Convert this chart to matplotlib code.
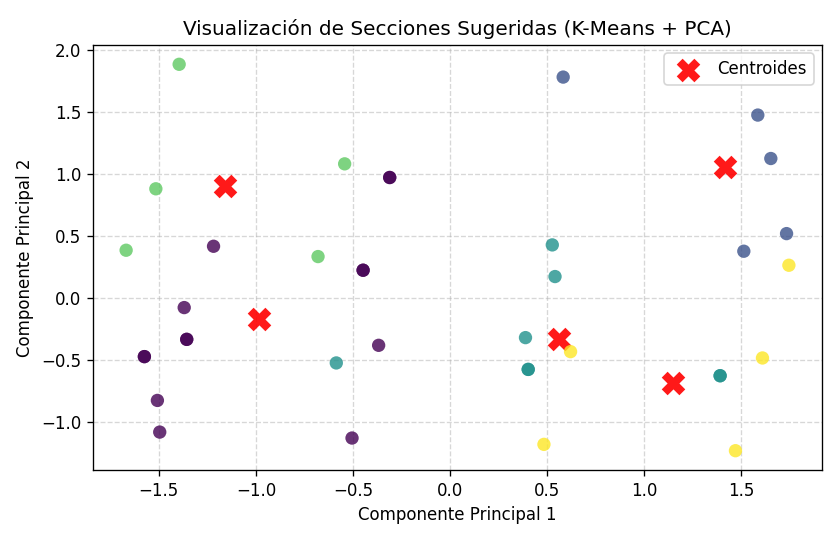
import matplotlib
matplotlib.use("Agg")
import matplotlib.pyplot as plt
import numpy as np

# PCA coordinates of the sections (some points overlap exactly)
pc1 = [-1.395, -0.543, -0.311, -0.311, -1.515, -1.668, -1.218, -0.680,
       -0.448, -0.448, -1.369, -1.356, -1.356, -1.574, -1.574, -0.368,
       -0.586, -1.507, -1.495, -0.505,
       0.582, 1.584, 1.651, 1.732, 1.512, 1.744,
       0.526, 0.540, 0.388, 0.620, 0.402, 0.402, 1.608, 1.390, 1.390,
       0.483, 1.469]
pc2 = [1.885, 1.083, 0.973, 0.973, 0.882, 0.387, 0.419, 0.336,
       0.226, 0.226, -0.075, -0.331, -0.331, -0.470, -0.470, -0.379,
       -0.521, -0.823, -1.078, -1.126,
       1.782, 1.476, 1.126, 0.521, 0.379, 0.266,
       0.430, 0.175, -0.317, -0.430, -0.573, -0.573, -0.481, -0.624, -0.624,
       -1.177, -1.228]
cluster = [3, 3, 0, 0, 3, 3, 0, 3,
           0, 0, 0, 0, 0, 0, 0, 0,
           2, 0, 0, 0,
           1, 1, 1, 1, 1, 4,
           2, 2, 2, 4, 2, 2, 4, 2, 2,
           4, 4]

cent_x = [-1.160, -0.983, 1.414, 0.558, 1.146]
cent_y = [0.906, -0.167, 1.056, -0.331, -0.680]

fig, ax = plt.subplots(figsize=(7, 4.5), dpi=120)
ax.scatter(pc1, pc2, c=cluster, cmap="viridis", s=64, alpha=0.8,
           linewidths=0, zorder=3)
ax.scatter(cent_x, cent_y, c="red", marker="X", s=200, alpha=0.9,
           linewidths=0, label="Centroides", zorder=2)
ax.set_title("Visualización de Secciones Sugeridas (K-Means + PCA)")
ax.set_xlabel("Componente Principal 1")
ax.set_ylabel("Componente Principal 2")
ax.grid(True, linestyle="--", alpha=0.5)
ax.legend(loc="upper right")
fig.subplots_adjust(left=0.1107, right=0.9786, top=0.9167, bottom=0.1296)
fig.savefig("out.png", dpi=120)
